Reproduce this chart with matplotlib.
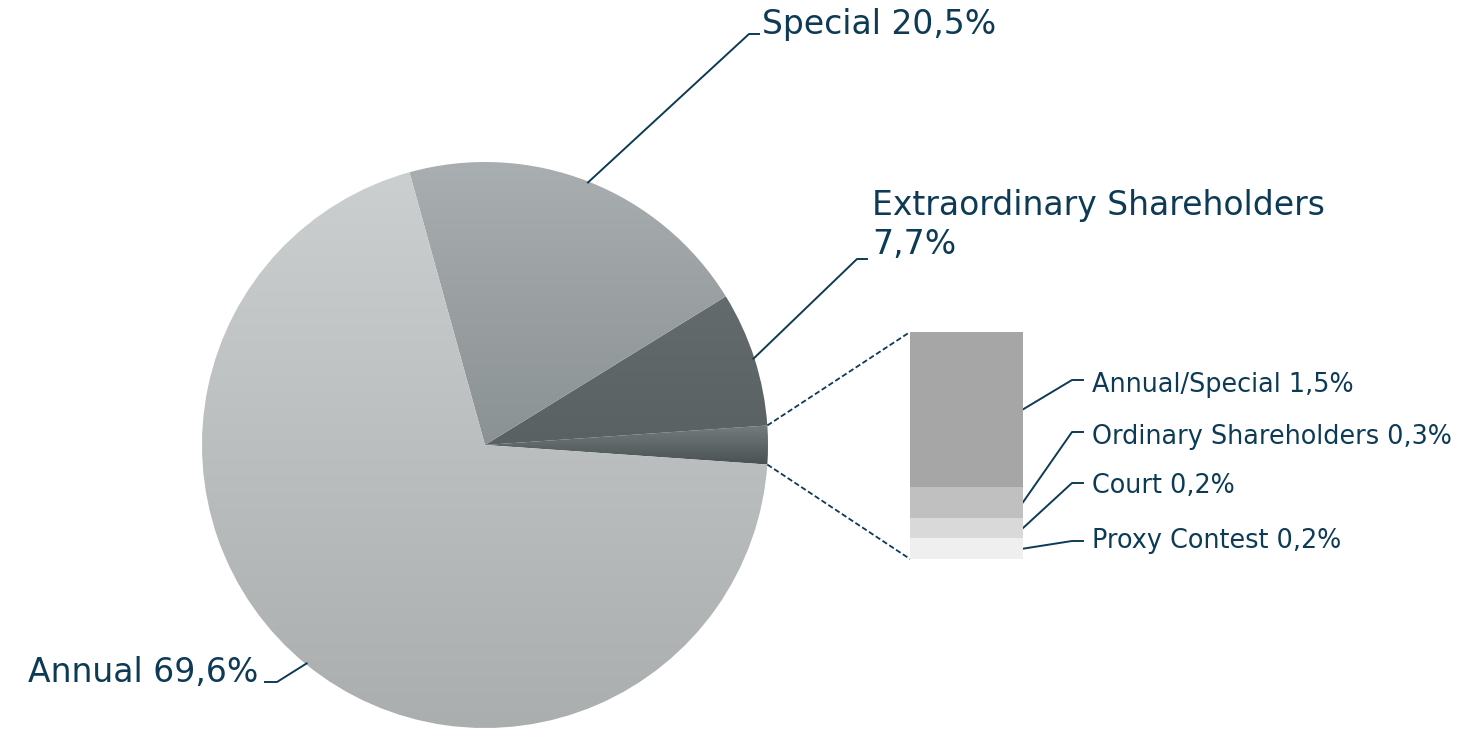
import numpy as np
import matplotlib
matplotlib.use("Agg")
import matplotlib.pyplot as plt
from matplotlib.colors import LinearSegmentedColormap

# meeting types, share of all meetings (%)
main_labels = ["Annual", "Special", "Extraordinary Shareholders"]
main_values = [69.6, 20.5, 7.7]
other_labels = ["Annual/Special", "Ordinary Shareholders", "Court", "Proxy Contest"]
other_values = [1.5, 0.3, 0.2, 0.2]

W, H = 1470, 730
NAVY = "#0d3b56"
plt.rcParams["font.family"] = ["DejaVu Sans"]


def pct(v):
    return f"{v:.1f}%".replace(".", ",")


fig = plt.figure(figsize=(W / 100, H / 100), dpi=100)
ax = fig.add_axes([0, 0, 1, 1])

# pie: "other" slice centred on 0°, then Extraordinary, Special, Annual counter-clockwise
other_total = sum(other_values)
pie_vals = [other_total, main_values[2], main_values[1], main_values[0]]
cx, cy, R = 485, H - 445, 283
start = -other_total / 100 * 360 / 2
wedges, _ = ax.pie(pie_vals, startangle=start, counterclock=True, center=(cx, cy),
                   radius=R, frame=True, wedgeprops=dict(linewidth=0))

# vertical gradients (top colour, bottom colour) per wedge
grads = [("#757c7d", "#4a5153"), ("#636b6d", "#5a6163"),
         ("#a9aeb0", "#8b9294"), ("#cbcfd0", "#aaaeaf")]
for w, (c_top, c_bot) in zip(wedges, grads):
    bb = w.get_path().get_extents()
    cmap = LinearSegmentedColormap.from_list("g", [c_bot, c_top])
    grad = np.linspace(0, 1, 256).reshape(-1, 1)
    im = ax.imshow(grad, cmap=cmap, origin="lower", aspect="auto",
                   extent=(bb.x0, bb.x1, bb.y0, bb.y1), zorder=1)
    im.set_clip_path(w)
    w.set_facecolor("none")


def edge_point(w, r=R - 1):
    ang = np.deg2rad((w.theta1 + w.theta2) / 2)
    return cx + r * np.cos(ang), cy + r * np.sin(ang)


lw = 1.4
big = 23.8
small = 18.4

# Special
px, py = edge_point(wedges[2])
ax.plot([px, 749, 759], [py, H - 34, H - 34], color=NAVY, lw=lw, zorder=3)
ax.text(762, H - 34, f"{main_labels[1]} {pct(main_values[1])}", color=NAVY,
        fontsize=big, va="baseline", ha="left")

# Extraordinary Shareholders
px, py = edge_point(wedges[1])
ax.plot([px, 857, 867], [py, H - 259, H - 259], color=NAVY, lw=lw, zorder=3)
ax.text(872, H - 215, main_labels[2], color=NAVY, fontsize=big, va="baseline", ha="left")
ax.text(872, H - 254, pct(main_values[2]), color=NAVY, fontsize=big, va="baseline", ha="left")

# Annual
px, py = edge_point(wedges[3])
ax.plot([px, 277, 265], [py, H - 682, H - 682], color=NAVY, lw=lw, zorder=3)
ax.text(258, H - 682, f"{main_labels[0]} {pct(main_values[0])}", color=NAVY,
        fontsize=big, va="baseline", ha="right")

# breakdown of the small slice as a stacked bar
bx0, bx1, by_top, by_bot = 910, 1023, H - 332, H - 559
bax = fig.add_axes([bx0 / W, by_bot / H, (bx1 - bx0) / W, (by_top - by_bot) / H])
bar_colors = ["#efefef", "#d9d9d9", "#c0c0c0", "#a6a6a6"]
stack_vals = other_values[::-1]
bottoms = np.concatenate([[0], np.cumsum(stack_vals)[:-1]])
bax.bar([0] * len(stack_vals), stack_vals, bottom=bottoms, width=1.0,
        color=bar_colors, linewidth=0)
bax.set_xlim(-0.5, 0.5)
bax.set_ylim(0, other_total)
bax.axis("off")

# dashed connectors from the small slice to the bar
w0 = wedges[0]
for ang, yb in [(w0.theta2, by_top), (w0.theta1, by_bot)]:
    a = np.deg2rad(ang)
    ax.plot([cx + R * np.cos(a), bx0], [cy + R * np.sin(a), yb], color=NAVY,
            lw=1.3, ls=(0, (3, 1.5)), zorder=3)

# bar labels: leader from segment midpoint, elbow, text
scale = (by_top - by_bot) / other_total
elbow_y = [380, 432, 483, 541]
text_base = [391.5, 443.5, 493.5, 548.5]
mids = (bottoms + np.array(stack_vals) / 2)[::-1]
for lab, val, m, ey, tb in zip(other_labels, other_values, mids, elbow_y, text_base):
    ax.plot([bx1, 1072, 1083], [by_bot + m * scale, H - ey, H - ey], color=NAVY, lw=lw, zorder=3)
    ax.text(1092, H - tb, f"{lab} {pct(val)}", color=NAVY, fontsize=small,
            va="baseline", ha="left")

ax.set_xlim(0, W)
ax.set_ylim(0, H)
ax.set_aspect("equal")
ax.axis("off")

fig.savefig("out.png", dpi=100, facecolor="white")
